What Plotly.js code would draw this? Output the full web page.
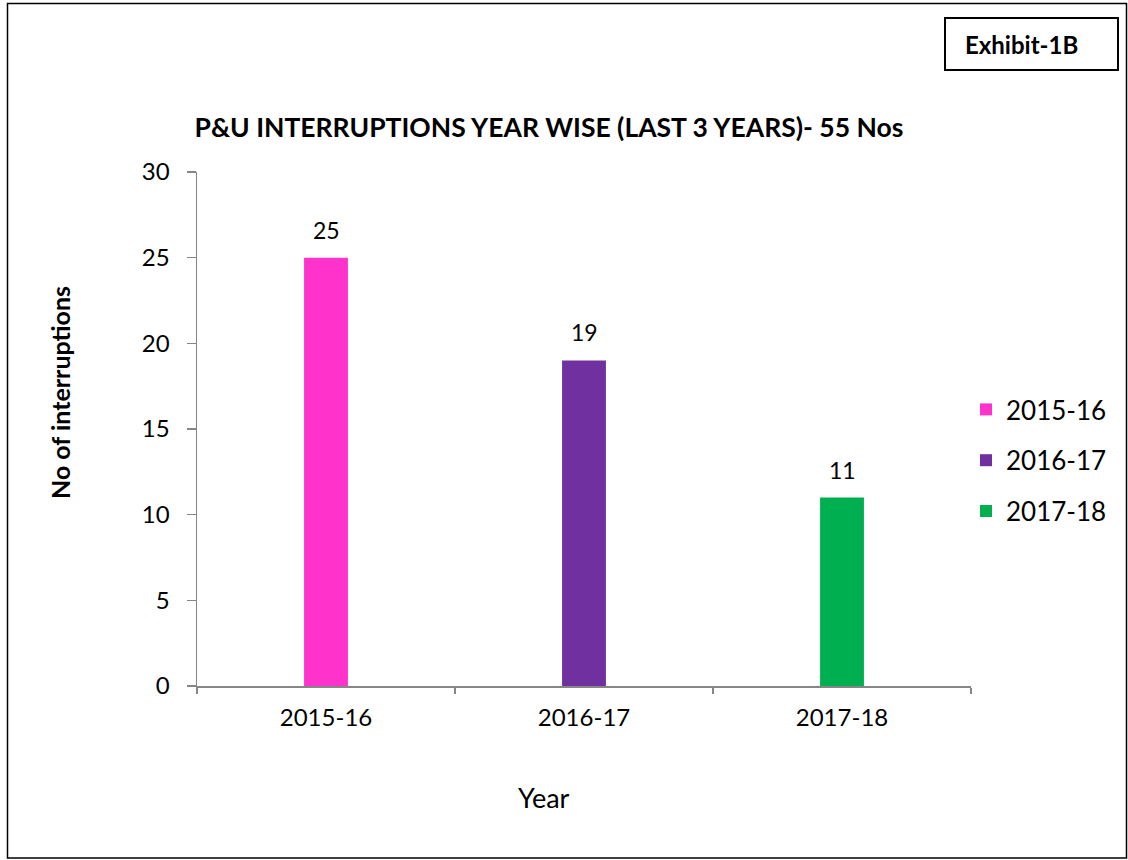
<!DOCTYPE html>
<html>
<head>
<meta charset="utf-8">
<script src="https://cdn.plot.ly/plotly-3.0.1.min.js"></script>
<style>html,body{margin:0;padding:0;background:#fff;}</style>
</head>
<body>
<div id="chart" style="width:1128px;height:860px;"></div>
<script>
const categories = ["2015-16", "2016-17", "2017-18"];
const values = [25, 19, 11];
const colors = ["#FF33CC", "#7030A0", "#00B050"];
const yTicks = [0, 5, 10, 15, 20, 25, 30];

const FONT = "Lato, 'Open Sans', sans-serif";

const traces = categories.map((c, i) => ({
  type: "bar",
  name: c,
  x: [c],
  y: [values[i]],
  width: 0.17,
  marker: {color: colors[i]},
  legendgroup: "g" + i,
  hoverinfo: "x+y"
}));

const L = 197, R = 971, T = 172, B = 686, W = 1128, H = 860;
const px = v => (v - L) / (R - L);
const py = v => (B - v) / (B - T);

const labelAnnotations = categories.map((c, i) => ({
  xref: "x", yref: "y", x: c, y: values[i],
  text: String(values[i]), showarrow: false,
  yanchor: "bottom", yshift: 12,
  font: {family: FONT, size: 23, color: "#000"}
}));

const layout = {
  width: W, height: H, autosize: false,
  margin: {l: L, r: W - R, t: T, b: H - B, pad: 0},
  paper_bgcolor: "#fff", plot_bgcolor: "#fff",
  font: {family: FONT, color: "#000"},
  barmode: "overlay",
  title: {
    text: "<b>P&U INTERRUPTIONS YEAR WISE (LAST 3 YEARS)- 55 Nos</b>",
    font: {family: FONT, size: 26.5, color: "#000"},
    x: 549 / W, xanchor: "center", xref: "container",
    y: 1 - 128 / H, yanchor: "middle", yref: "container"
  },
  xaxis: {
    type: "category",
    showgrid: false, zeroline: false,
    showline: true, linecolor: "#868686", linewidth: 1.5,
    ticks: "outside", ticklen: 6, tickcolor: "#868686", tickwidth: 1.5,
    tickson: "boundaries",
    ticklabelstandoff: 10,
    tickfont: {family: FONT, size: 24, color: "#000"},
    fixedrange: true
  },
  yaxis: {
    range: [0, 30],
    tickvals: yTicks,
    showgrid: false, zeroline: false,
    showline: true, linecolor: "#868686", linewidth: 1.5,
    ticks: "outside", ticklen: 9, tickcolor: "#868686", tickwidth: 1.5,
    ticklabelstandoff: 12,
    tickfont: {family: FONT, size: 24, color: "#000"},
    fixedrange: true
  },
  legend: {
    x: px(966), xanchor: "left",
    y: py(386), yanchor: "top",
    font: {family: FONT, size: 26, color: "#000"},
    tracegroupgap: 14,
    itemwidth: 30,
    bgcolor: "rgba(0,0,0,0)"
  },
  shapes: [
    {type: "rect", xref: "paper", yref: "paper",
     x0: px(7.5), x1: px(1126.5), y0: py(858), y1: py(3.5),
     line: {color: "#000", width: 1.5}, fillcolor: "rgba(0,0,0,0)", layer: "below"},
    {type: "rect", xref: "paper", yref: "paper",
     x0: px(945), x1: px(1118), y0: py(70), y1: py(18),
     line: {color: "#000", width: 2}, fillcolor: "rgba(0,0,0,0)"}
  ],
  annotations: [
    {xref: "paper", yref: "paper", x: px(1021), y: py(44),
     text: "<b>Exhibit-1B</b>", showarrow: false,
     font: {family: FONT, size: 24, color: "#000"}, xanchor: "center", yanchor: "middle"},
    {xref: "paper", yref: "paper", x: px(60), y: py(393),
     text: "<b>No of interruptions</b>", showarrow: false, textangle: -90,
     font: {family: FONT, size: 25, color: "#000"}, xanchor: "center", yanchor: "middle"},
    {xref: "paper", yref: "paper", x: px(544), y: py(797),
     text: "Year", showarrow: false,
     font: {family: FONT, size: 27, color: "#000"}, xanchor: "center", yanchor: "middle"}
  ].concat(labelAnnotations)
};

Plotly.newPlot("chart", traces, layout, {displayModeBar: false, staticPlot: true});
</script>
</body>
</html>
